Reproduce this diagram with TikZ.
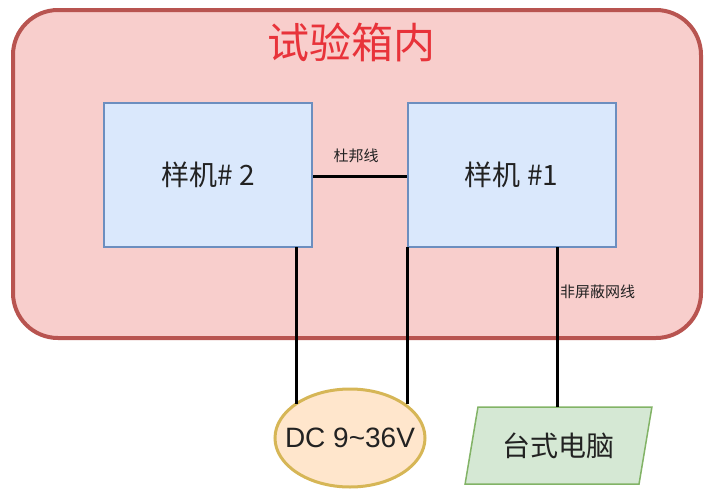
\documentclass[tikz,border=0pt]{standalone}
\usepackage{fontspec}
\setmainfont{Liberation Sans}
\newfontfamily\cjk{Noto Sans CJK SC}
\usetikzlibrary{shapes.geometric}
\definecolor{outerfill}{HTML}{F8CECC}
\definecolor{outerdraw}{HTML}{B85450}
\definecolor{bluefill}{HTML}{DAE8FC}
\definecolor{bluedraw}{HTML}{6C8EBF}
\definecolor{orfill}{HTML}{FFE6CC}
\definecolor{ordraw}{HTML}{D6B656}
\definecolor{grfill}{HTML}{D5E8D4}
\definecolor{grdraw}{HTML}{82B366}
\definecolor{titlered}{HTML}{E8333A}
\definecolor{txt}{HTML}{222222}
\tikzset{
  dev/.style={draw=bluedraw, fill=bluefill, line width=2pt, minimum width=208pt, minimum height=144pt, inner sep=0pt, font=\cjk\fontsize{28}{32}\selectfont, text=txt},
  wire/.style={line width=3pt, black},
  lbl/.style={font=\cjk\fontsize{15}{18}\selectfont, text=txt, inner sep=0pt}
}
\begin{document}
\begin{tikzpicture}[x=1pt,y=-1pt]
\useasboundingbox (0,0) rectangle (704,490);
\node[draw=outerdraw, fill=outerfill, line width=4pt, rounded corners=45pt, minimum width=688pt, minimum height=328pt, inner sep=0pt] (box) at (357,174) {};
\node[font=\cjk\fontsize{42}{46}\selectfont, text=titlered, inner sep=0pt] (title) at (351,42) {试验箱内};
\node[dev] (d2) at (208,175) {样机\# 2};
\node[dev] (d1) at (511.5,175) {样机 \#1};
\node[ellipse, draw=ordraw, fill=orfill, line width=3pt, minimum width=150pt, minimum height=98pt, inner xsep=-12pt, inner ysep=0pt, font=\fontsize{28}{32}\selectfont, text=txt] (dc) at (350,438) {DC 9\textasciitilde36V};
\node[trapezium, trapezium left angle=71, trapezium right angle=109, draw=grdraw, fill=grfill, line width=1.5pt, minimum width=187pt, minimum height=77pt, inner sep=0pt, trapezium stretches=true, font=\cjk\fontsize{28}{32}\selectfont, text=txt] (pc) at (558.5,445.5) {台式电脑};
\coordinate (a1) at (296,247);
\coordinate (a2) at (296,404);
\coordinate (b1) at (407,247);
\coordinate (b2) at (407,404);
\coordinate (c1) at (557,247);
\coordinate (c2) at (557,407);
\draw[wire] (d2.east |- 0,176) -- (d1.west |- 0,176);
\draw[wire] (a1) -- (a2);
\draw[wire] (b1) -- (b2);
\draw[wire] (c1) -- (c2);
\node[lbl] (l1) at (356,156) {杜邦线};
\node[lbl, anchor=west] (l2) at (560,292) {非屏蔽网线};
\end{tikzpicture}
\end{document}
